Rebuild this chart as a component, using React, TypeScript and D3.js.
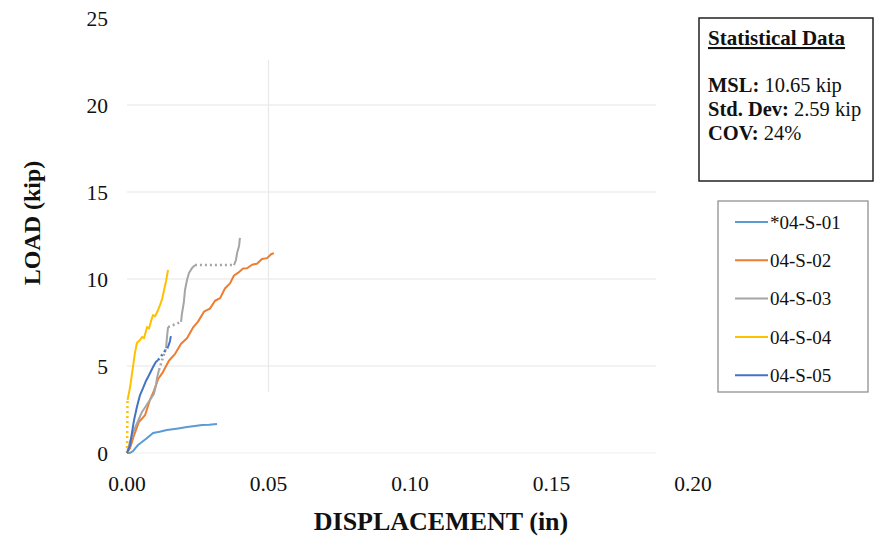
import React from "react";
import * as d3 from "d3";

// Load–displacement records, displacement in inches, load in kip
const s01Disp = [0, 0.001, 0.0021, 0.0039, 0.0071, 0.0092, 0.0115, 0.0141, 0.0175, 0.0212, 0.0240, 0.0265, 0.0290, 0.0318];
const s01Load = [0, 0.0, 0.11, 0.46, 0.86, 1.15, 1.22, 1.32, 1.40, 1.49, 1.55, 1.61, 1.62, 1.67];

const s02Disp = [0, 0.0011, 0.0025, 0.0042, 0.0064, 0.0081, 0.0092, 0.0110, 0.0127, 0.0148, 0.0170, 0.0191, 0.0212, 0.0233, 0.0251, 0.0272, 0.0293, 0.0311, 0.0329, 0.0346, 0.0364, 0.0378, 0.0392, 0.0410, 0.0424, 0.0442, 0.0459, 0.0477, 0.0495, 0.0509, 0.0519];
const s02Load = [0, 0.29, 1.03, 1.78, 2.18, 3.05, 3.45, 4.25, 4.65, 5.30, 5.70, 6.28, 6.60, 7.20, 7.55, 8.12, 8.30, 8.75, 8.90, 9.45, 9.75, 10.20, 10.35, 10.60, 10.62, 10.82, 10.88, 11.15, 11.20, 11.42, 11.49];

const s03Disp = [0, 0.0011, 0.0025, 0.0039, 0.0053, 0.0067, 0.0081, 0.0095, 0.0102, 0.0106, 0.0113, 0.0138, 0.0141, 0.0145, 0.0191, 0.0194, 0.0201, 0.0205, 0.0212, 0.0219, 0.0230, 0.0240, 0.0378, 0.0385, 0.0389, 0.0396, 0.0399];
const s03Load = [0, 0.69, 1.32, 1.84, 2.36, 2.70, 3.05, 3.39, 3.85, 4.31, 4.77, 6.03, 6.61, 7.24, 7.53, 7.99, 8.68, 9.37, 9.94, 10.34, 10.63, 10.80, 10.80, 11.09, 11.49, 11.90, 12.36];
const s03Gaps = [10, 13, 21];

const s04Disp = [0, 0.0002, 0.0011, 0.0021, 0.0028, 0.0035, 0.0046, 0.0053, 0.0060, 0.0071, 0.0078, 0.0085, 0.0092, 0.0099, 0.0110, 0.0117, 0.0124, 0.0131, 0.0138, 0.0145];
const s04Load = [0, 3.05, 3.79, 4.94, 5.75, 6.32, 6.49, 6.67, 6.60, 7.24, 7.15, 7.59, 7.93, 7.85, 8.22, 8.51, 8.85, 9.37, 9.89, 10.52];
const s04Gaps = [0];

const s05Disp = [0, 0.0011, 0.0018, 0.0025, 0.0035, 0.0046, 0.0057, 0.0067, 0.0078, 0.0092, 0.0102, 0.0110, 0.0145, 0.0152, 0.0155];
const s05Load = [0, 0.46, 1.21, 1.90, 2.64, 3.33, 3.74, 4.14, 4.48, 4.94, 5.23, 5.34, 6.09, 6.44, 6.72];
const s05Gaps = [11];

const seriesNames = ["*04-S-01", "04-S-02", "04-S-03", "04-S-04", "04-S-05"];
const seriesColors = ["#5B9BD5", "#ED7D31", "#A5A5A5", "#FFC000", "#4472C4"];

const xTicks = [0, 0.05, 0.1, 0.15, 0.2];
const yTicks = [0, 5, 10, 15, 20, 25];

const statsTitle = "Statistical Data";
const statsLabels = ["MSL:", "Std. Dev:", "COV:"];
const statsValues = [" 10.65 kip", " 2.59 kip", " 24%"];

const W = 875;
const H = 537;
const FONT = "'Liberation Serif', 'Times New Roman', serif";

type Series = { name: string; color: string; disp: number[]; load: number[]; gaps: number[] };

const series: Series[] = [
  { name: seriesNames[0], color: seriesColors[0], disp: s01Disp, load: s01Load, gaps: [] },
  { name: seriesNames[1], color: seriesColors[1], disp: s02Disp, load: s02Load, gaps: [] },
  { name: seriesNames[2], color: seriesColors[2], disp: s03Disp, load: s03Load, gaps: s03Gaps },
  { name: seriesNames[3], color: seriesColors[3], disp: s04Disp, load: s04Load, gaps: s04Gaps },
  { name: seriesNames[4], color: seriesColors[4], disp: s05Disp, load: s05Load, gaps: s05Gaps },
];

export default function App() {
  const x = d3.scaleLinear().domain([0, 0.2]).range([127, 693]);
  const y = d3.scaleLinear().domain([0, 25]).range([453, 18]);
  const line = d3.line<[number, number]>().x((p) => x(p[0])).y((p) => y(p[1]));

  // split each record into solid runs and dotted connecting pieces
  const pieces = series.flatMap((s, si) => {
    const pts: [number, number][] = s.disp.map((d, i) => [d, s.load[i]]);
    const out: { key: string; d: string; color: string; dotted: boolean }[] = [];
    let run: [number, number][] = [pts[0]];
    for (let i = 0; i < pts.length - 1; i++) {
      if (s.gaps.includes(i)) {
        if (run.length > 1) out.push({ key: `${si}-s${i}`, d: line(run)!, color: s.color, dotted: false });
        out.push({ key: `${si}-g${i}`, d: line([pts[i], pts[i + 1]])!, color: s.color, dotted: true });
        run = [pts[i + 1]];
      } else {
        run.push(pts[i + 1]);
      }
    }
    if (run.length > 1) out.push({ key: `${si}-end`, d: line(run)!, color: s.color, dotted: false });
    return out;
  });

  const gridRight = 656;

  return (
    <svg width={W} height={H} style={{ position: "absolute", left: 0, top: 0, background: "#fff" }} fontFamily={FONT}>
      {/* gridlines */}
      {yTicks.filter((t) => t > 0 && t < 25).map((t) => (
        <line key={`gy${t}`} x1={x(0)} x2={gridRight} y1={y(t)} y2={y(t)} stroke="#e6e6e6" strokeWidth={1.2} />
      ))}
      <line x1={x(0)} x2={gridRight} y1={y(0)} y2={y(0)} stroke="#f0f0f0" strokeWidth={1.2} />
      <line x1={x(0.05)} x2={x(0.05)} y1={y(22.6)} y2={y(3.5)} stroke="#e8e8e8" strokeWidth={1.2} />

      {/* tick labels */}
      {yTicks.map((t) => (
        <text key={`ty${t}`} x={108} y={y(t)} dy="0.35em" textAnchor="end" fontSize={21.5} fill="#111">
          {t}
        </text>
      ))}
      {xTicks.map((t) => (
        <text key={`tx${t}`} x={x(t)} y={491} textAnchor="middle" fontSize={21.5} fill="#111">
          {t.toFixed(2)}
        </text>
      ))}

      {/* axis titles */}
      <text x={441} y={530} textAnchor="middle" fontSize={26} fontWeight="bold" fill="#111">
        DISPLACEMENT (in)
      </text>
      <text transform={`translate(40,223) rotate(-90)`} textAnchor="middle" fontSize={24} fontWeight="bold" fill="#111">
        LOAD (kip)
      </text>

      {/* curves */}
      {pieces.map((p) => (
        <path
          key={p.key}
          d={p.d}
          fill="none"
          stroke={p.color}
          strokeWidth={p.dotted ? 2.5 : 2}
          strokeDasharray={p.dotted ? "2,3" : undefined}
          strokeLinejoin="round"
        />
      ))}

      {/* statistics box */}
      <rect x={699} y={18} width={174} height={163} fill="#fff" stroke="#222" strokeWidth={1.5} />
      <text x={708} y={45} fontSize={21} fontWeight="bold" textDecoration="underline" fill="#111">
        {statsTitle}
      </text>
      {statsLabels.map((l, i) => (
        <text key={l} x={708} y={92 + i * 24} fontSize={20.5} fill="#111">
          <tspan fontWeight="bold">{l}</tspan>
          <tspan>{statsValues[i]}</tspan>
        </text>
      ))}

      {/* legend */}
      <rect x={718} y={201} width={150} height={191} fill="#fff" stroke="#888" strokeWidth={1.2} />
      {series.map((s, i) => (
        <g key={s.name} transform={`translate(0,${222 + i * 38.3})`}>
          <line x1={735} x2={768} y1={0} y2={0} stroke={s.color} strokeWidth={2} />
          <text x={770} y={0} dy="0.35em" fontSize={19} fill="#111">
            {s.name}
          </text>
        </g>
      ))}
    </svg>
  );
}
